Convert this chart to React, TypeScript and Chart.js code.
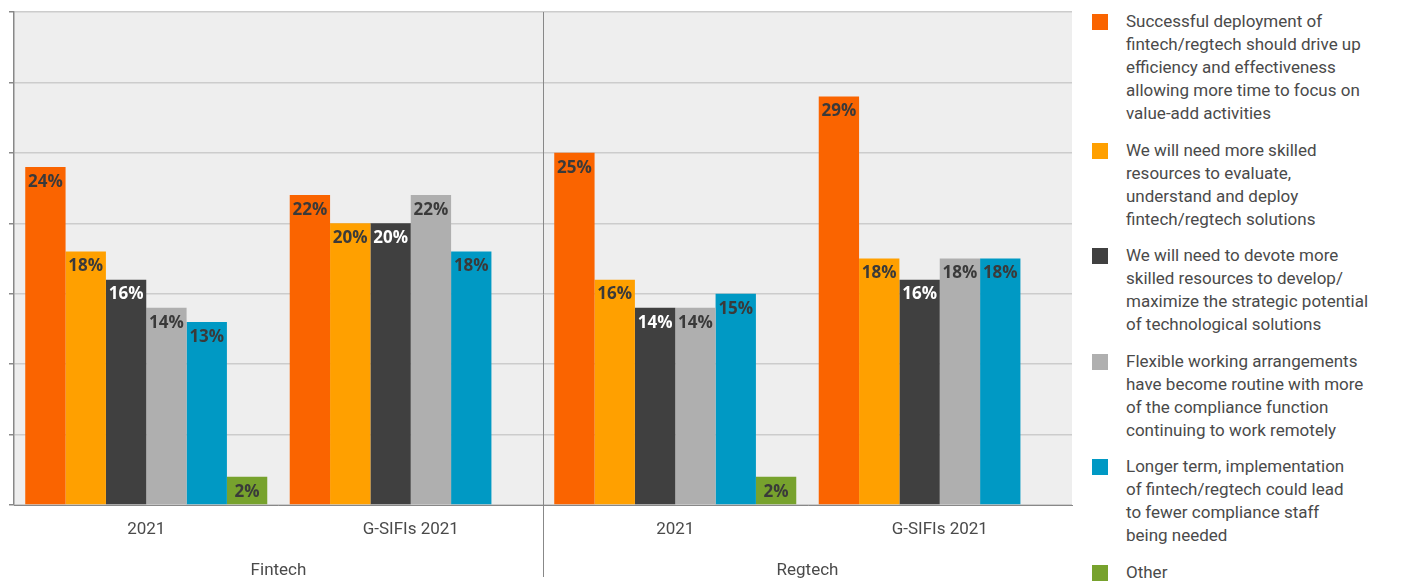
import React, { useEffect, useRef } from "react";
import { Chart, registerables } from "chart.js";

Chart.register(...registerables);

const categories = ["2021", "G-SIFIs 2021", "2021", "G-SIFIs 2021"];
const groupLabels = ["Fintech", "Regtech"];

const seriesLabels = [
  "Successful deployment of\nfintech/regtech should drive up\nefficiency and effectiveness\nallowing more time to focus on\nvalue-add activities",
  "We will need more skilled\nresources to evaluate,\nunderstand and deploy\nfintech/regtech solutions",
  "We will need to devote more\nskilled resources to develop/\nmaximize the strategic potential\nof technological solutions",
  "Flexible working arrangements\nhave become routine with more\nof the compliance function\ncontinuing to work remotely",
  "Longer term, implementation\nof fintech/regtech could lead\nto fewer compliance staff\nbeing needed",
  "Other",
];

const successfulDeployment = [24, 22, 25, 29];
const moreSkilledResources = [18, 20, 16, 17.5];
const devoteSkilledResources = [16, 20, 14, 16];
const flexibleWorking = [14, 22, 14, 17.5];
const fewerComplianceStaff = [13, 18, 15, 17.5];
const otherValues: (number | null)[] = [2, null, 2, null];

const seriesColors = ["#FA6400", "#FFA000", "#404040", "#AFAFAF", "#0099C4", "#77A22D"];
const labelColors = ["#3a3a3a", "#3a3a3a", "#ffffff", "#3a3a3a", "#3a3a3a", "#3a3a3a"];

const yMin = 0;
const yMax = 35;
const yStep = 5;

const FONT = "Roboto, 'Noto Sans', sans-serif";

export default function App() {
  const canvasRef = useRef<HTMLCanvasElement | null>(null);

  useEffect(() => {
    document.body.style.margin = "0";
    const canvas = canvasRef.current;
    if (!canvas) return;

    const allSeries = [
      successfulDeployment,
      moreSkilledResources,
      devoteSkilledResources,
      flexibleWorking,
      fewerComplianceStaff,
      otherValues,
    ];

    const plotBg = {
      id: "plotBg",
      beforeDraw(chart: any) {
        const { ctx, chartArea } = chart;
        ctx.save();
        ctx.fillStyle = "#EEEEEE";
        ctx.fillRect(chartArea.left, chartArea.top, chartArea.right - chartArea.left, chartArea.bottom - chartArea.top);
        ctx.restore();
      },
    };

    const extras = {
      id: "extras",
      afterDraw(chart: any) {
        const { ctx, chartArea } = chart;
        const x = chart.scales.x;
        // data labels
        ctx.save();
        ctx.font = "bold 17px 'Open Sans', Roboto, sans-serif";
        ctx.textAlign = "center";
        ctx.textBaseline = "middle";
        chart.data.datasets.forEach((ds: any, di: number) => {
          const meta = chart.getDatasetMeta(di);
          meta.data.forEach((el: any, i: number) => {
            const v = ds.data[i];
            if (v === null || v === undefined) return;
            ctx.fillStyle = labelColors[di];
            ctx.fillText(Math.round(v) + "%", el.x, el.y + 15);
          });
        });
        // divider between groups
        const mid = (x.getPixelForTick(1) + x.getPixelForTick(2)) / 2;
        ctx.strokeStyle = "#888888";
        ctx.lineWidth = 1;
        ctx.beginPath();
        ctx.moveTo(Math.round(mid) + 0.5, chartArea.top);
        ctx.lineTo(Math.round(mid) + 0.5, chart.height - 6);
        ctx.stroke();
        // group labels
        ctx.font = "17px " + FONT;
        ctx.fillStyle = "#4a4a4a";
        ctx.textBaseline = "middle";
        groupLabels.forEach((g, gi) => {
          const cx = (x.getPixelForTick(gi * 2) + x.getPixelForTick(gi * 2 + 1)) / 2;
          ctx.fillText(g, cx, 571);
        });
        ctx.restore();
      },
    };

    const chart = new Chart(canvas, {
      type: "bar",
      data: {
        labels: categories,
        datasets: allSeries.map((d, i) => ({
          label: seriesLabels[i],
          data: d,
          backgroundColor: seriesColors[i],
          borderWidth: 0,
          categoryPercentage: 0.915,
          barPercentage: 1.0,
        })),
      },
      options: {
        animation: false,
        responsive: true,
        maintainAspectRatio: false,
        layout: { padding: { top: 12, right: 8, left: 0, bottom: 0 } },
        plugins: {
          legend: { display: false },
          tooltip: { enabled: false },
        },
        scales: {
          x: {
            grid: { display: false, drawTicks: false },
            border: { display: true, color: "#888888", width: 1 },
            ticks: {
              padding: 15,
              color: "#4a4a4a",
              font: { family: FONT, size: 17 },
              maxRotation: 0,
            },
            afterFit: (s: any) => {
              s.height = 78;
            },
          },
          y: {
            min: yMin,
            max: yMax,
            ticks: { stepSize: yStep, display: false },
            grid: {
              color: "#CCCCCC",
              lineWidth: 1.5,
              drawTicks: true,
              tickLength: 5,
              tickColor: "#888888",
            },
            border: { display: true, color: "#888888", width: 1.5 },
            afterFit: (s: any) => {
              s.width = 14;
            },
          },
        },
      },
      plugins: [plotBg, extras],
    });

    return () => chart.destroy();
  }, []);

  return (
    <div style={{ position: "relative", width: 1402, height: 583, overflow: "hidden", background: "#fff" }}>
      <div style={{ position: "absolute", left: 0, top: 0, width: 1080, height: 583 }}>
        <canvas ref={canvasRef} />
      </div>
      <div
        style={{
          position: "absolute",
          left: 1092,
          top: 10,
          width: 300,
          fontFamily: FONT,
          fontSize: 17,
          lineHeight: "23px",
          color: "#4a4a4a",
        }}
      >
        {seriesLabels.map((label, i) => (
          <div key={i} style={{ position: "relative", paddingLeft: 34, marginBottom: 13.5 }}>
            <span
              style={{
                position: "absolute",
                left: 0,
                top: 4,
                width: 16,
                height: 16,
                background: seriesColors[i],
              }}
            />
            <div style={{ whiteSpace: "pre-line" }}>{label}</div>
          </div>
        ))}
      </div>
    </div>
  );
}
